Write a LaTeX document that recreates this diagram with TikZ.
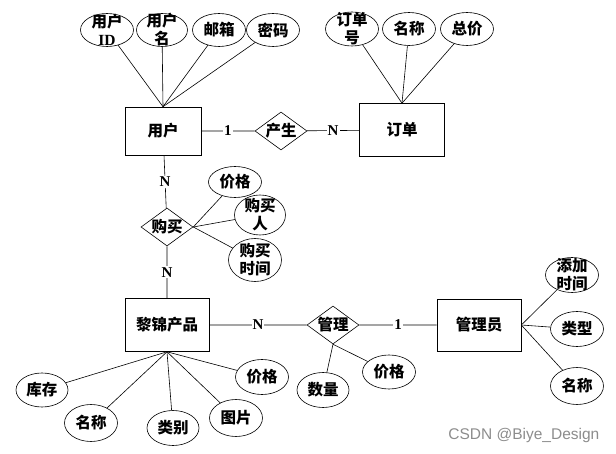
\documentclass[tikz,border=0pt]{standalone}
\usepackage{fontspec}
\setmainfont{Liberation Serif}
\setsansfont{Liberation Sans}
\newfontfamily\cjk{Noto Sans CJK SC}
\usetikzlibrary{shapes.geometric}

\begin{document}
\begin{tikzpicture}[x=1pt, y=-1pt, line width=0.6pt,
    every node/.style={font=\cjk\bfseries\fontsize{15.5}{14}\selectfont},
    entity/.style={draw, rectangle, inner sep=0pt},
    rel/.style={draw, diamond, aspect=1.4, inner sep=0pt, minimum width=52, minimum height=38},
    attr/.style={draw, ellipse, inner sep=0pt, minimum width=53, minimum height=33, align=center},
    twoline/.style={label={[font=\cjk\bfseries\fontsize{15.5}{18}\selectfont, align=center, inner sep=0pt]center:#1}},
    card/.style={fill=white, inner sep=1pt, font=\rmfamily\bfseries\fontsize{15}{15}\selectfont}]
      \useasboundingbox (0,0) rectangle (616,454);

      % entities
      \node[entity, minimum width=76, minimum height=48] (user)  at (163,131) {用户};
      \node[entity, minimum width=85, minimum height=53] (order) at (402,130) {订单};
      \node[entity, minimum width=84, minimum height=53] (prod)  at (167,325) {黎锦产品};
      \node[entity, minimum width=84, minimum height=52] (admin) at (479,325) {管理员};

      % relations
      \node[rel] (make)   at (281,131) {产生};
      \node[rel] (buy)    at (167,227) {购买};
      \node[rel] (manage) at (333,325) {管理};

      \draw
          (user) -- node[card] {1} (make)
          (make) -- node[card] {N} (order)
          (user) -- node[card] {N} (buy)
          (buy)  -- node[card] {N} (prod)
          (prod) -- node[card] {N} (manage)
          (manage) -- node[card] {1} (admin)
          ;

      % attributes of user
      \node[attr, twoline={用户\\\textrm{ID}}]       (uid)   at (107,30) {};
      \node[attr, minimum width=51, twoline={用户\\名}] (uname) at (162,30) {};
      \node[attr] (mail)  at (219,30) {邮箱};
      \node[attr] (pwd)   at (273,30) {密码};
      \foreach \a in {uid, uname, mail, pwd}
          \draw (\a) -- (user.north);

      % attributes of order
      \node[attr, minimum height=34, twoline={订单\\号}] (ono) at (352,29) {};
      \node[attr] (oname) at (409,29) {名称};
      \node[attr] (total) at (467,29) {总价};
      \foreach \a in {ono, oname, total}
          \draw (\a) -- (order.north);

      % attributes of buy
      \node[attr, minimum height=31] (bprice) at (235,182) {价格};
      \node[attr, minimum width=51, minimum height=40, twoline={购买\\人}]   (buyer) at (260,215) {};
      \node[attr, minimum height=43, twoline={购买\\时间}]                  (btime) at (255,260) {};
      \foreach \a in {bprice, buyer, btime}
          \draw (\a) -- (buy.east);

      % attributes of product
      \node[attr, minimum width=52, minimum height=34] (stock) at (42,390)  {库存};
      \node[attr, minimum height=37]                   (pname) at (91,423)  {名称};
      \node[attr, minimum width=52, minimum height=35] (ptype) at (173,428) {类别};
      \node[attr, minimum height=37]                   (pic)   at (236,418) {图片};
      \node[attr, minimum height=35]                   (pprice) at (262,377) {价格};
      \foreach \a in {stock, pname, ptype, pic, pprice}
          \draw (\a) -- (prod.south);

      % attributes of manage
      \node[attr, minimum width=52, minimum height=35] (qty)    at (323,390) {数量};
      \node[attr, minimum height=34]                   (mprice) at (389,372) {价格};
      \foreach \a in {qty, mprice}
          \draw (\a) -- (manage.south);

      % attributes of admin
      \node[attr, minimum height=35, twoline={添加\\时间}] (atime) at (572,275) {};
      \node[attr, minimum height=35] (atype) at (577,329) {类型};
      \node[attr, minimum height=37] (aname) at (577,386) {名称};
      \foreach \a in {atime, atype, aname}
          \draw (\a) -- (admin.east);

      \node[anchor=east, text=black!45, font=\sffamily\fontsize{15.5}{15}\selectfont] (mark) at (603,435) {CSDN @Biye\_Design};
\end{tikzpicture}
\end{document}
